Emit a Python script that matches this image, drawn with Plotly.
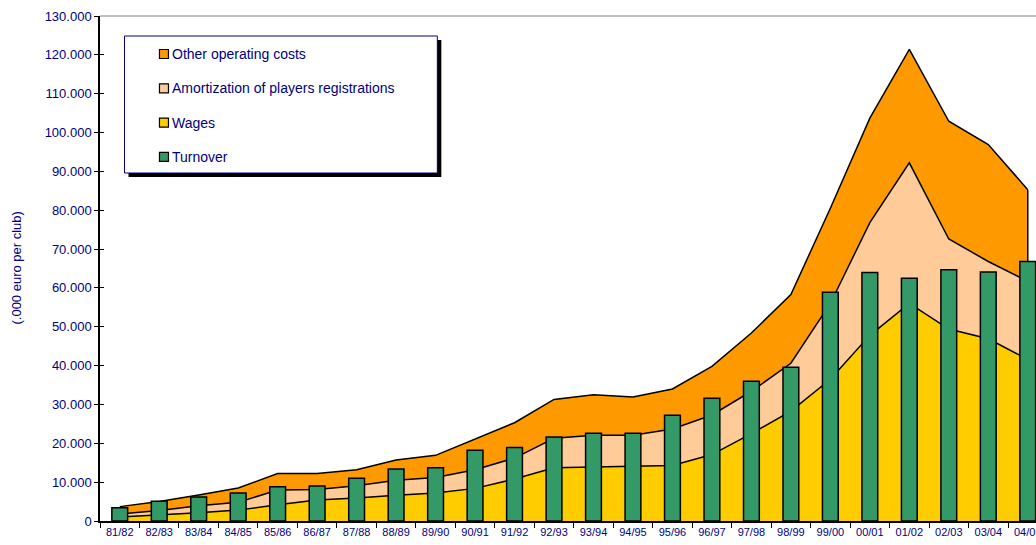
import plotly.graph_objects as go

# Seasons
seasons = ["81/82", "82/83", "83/84", "84/85", "85/86", "86/87", "87/88", "88/89",
           "89/90", "90/91", "91/92", "92/93", "93/94", "94/95", "95/96", "96/97",
           "97/98", "98/99", "99/00", "00/01", "01/02", "02/03", "03/04", "04/05"]

# Cost components (.000 euro per club)
wages = [1000, 1500, 2100, 2800, 4200, 5400, 5900, 6600, 7200, 8400, 10800, 13700,
         13900, 14000, 14300, 17100, 22500, 28300, 36500, 47800, 56000, 49400, 46900, 41600]
amortization = [800, 1200, 1800, 2000, 3800, 2700, 3200, 3900, 4000, 4800, 5400, 7600,
                8200, 8100, 9400, 10200, 10900, 12300, 19500, 29000, 36200, 23200, 19900, 20100]
other_costs = [1900, 2300, 2800, 3700, 4200, 4100, 4100, 5200, 5700, 7800, 9100, 10000,
               10400, 9800, 10300, 12500, 15000, 17700, 24500, 26900, 29200, 30300, 30100, 23600]

# Revenue
turnover = [3400, 5100, 6200, 7200, 8800, 9000, 11000, 13400, 13700, 18200, 18900, 21600,
            22600, 22600, 27200, 31600, 36000, 39600, 58900, 64000, 62500, 64700, 64100, 66800]

NAVY = "#000080"
FONT = "Liberation Sans, Arial, sans-serif"
COL_OTHER = "#FF9900"
COL_AMORT = "#FFCC99"
COL_WAGES = "#FFCC00"
COL_TURN = "#339966"

W, H = 1036, 545
L, T, B = 99.5, 16, 24
plot_w = W - L
plot_h = H - T - B
cat_px = 39.5
x_range = [-0.5, -0.5 + plot_w / cat_px]
y_range = [0, 130000]

fig = go.Figure()

# Stacked cost areas
for name, vals, col in [("Wages", wages, COL_WAGES),
                        ("Amortization of players registrations", amortization, COL_AMORT),
                        ("Other operating costs", other_costs, COL_OTHER)]:
    fig.add_trace(go.Scatter(
        x=seasons, y=vals, name=name, stackgroup="costs", mode="lines",
        line=dict(color="black", width=1.5), fillcolor=col, showlegend=False,
        hoverinfo="skip"))

# Closing edge of the stacked area at the last season
total_last = wages[-1] + amortization[-1] + other_costs[-1]
fig.add_trace(go.Scatter(
    x=[seasons[-1], seasons[-1]], y=[0, total_last], mode="lines",
    line=dict(color="black", width=1.5), showlegend=False, hoverinfo="skip"))

# Turnover bars on an overlaid subplot so they sit above the areas
fig.add_trace(go.Bar(
    x=seasons, y=turnover, name="Turnover", xaxis="x2", yaxis="y2",
    marker=dict(color=COL_TURN, line=dict(color="black", width=1.5)),
    width=0.4, showlegend=False, hoverinfo="skip"))

fig.update_layout(
    width=W, height=H,
    margin=dict(l=L, r=0, t=T, b=B, autoexpand=False),
    paper_bgcolor="white", plot_bgcolor="white",
    separators=",.",
    font=dict(family=FONT, color=NAVY),
    showlegend=False,
    xaxis=dict(
        type="category", categoryorder="array", categoryarray=seasons,
        range=x_range, showgrid=False, zeroline=False, automargin=False,
        showline=True, linecolor="black", linewidth=1.5,
        ticks="outside", tickson="boundaries", ticklen=5, tickcolor="black",
        tickfont=dict(size=11, color=NAVY, family=FONT)),
    yaxis=dict(
        range=y_range, dtick=10000, tickformat=",d", showgrid=False, zeroline=False,
        automargin=False,
        showline=True, linecolor="black", linewidth=1.5,
        ticks="outside", ticklen=4, tickcolor="black",
        tickfont=dict(size=13, color=NAVY, family=FONT)),
    xaxis2=dict(
        type="category", categoryorder="array", categoryarray=seasons,
        overlaying="x", range=x_range, visible=False, automargin=False),
    yaxis2=dict(
        overlaying="y", anchor="x2", side="left", range=y_range, dtick=10000,
        showgrid=False, zeroline=False, showline=False, showticklabels=False,
        automargin=False, ticks="inside", ticklen=4, tickcolor="black"),
    bargap=0.6,
)

# Top border of the plot area
fig.add_shape(type="line", xref="x domain", yref="y domain",
              x0=0, x1=1, y0=1, y1=1, line=dict(color="#808080", width=1))

# Axis title
fig.add_annotation(
    text="(.000 euro per club)", textangle=-90, showarrow=False,
    xref="paper", yref="paper",
    x=(15 - L) / plot_w, y=(H - B - 268) / plot_h,
    xanchor="center", yanchor="middle",
    font=dict(size=13, color=NAVY, family=FONT))


# Legend box drawn in pixel units
def px(xp):
    return (xp - L) / plot_w


def py(yp):
    return (H - B - yp) / plot_h


box = (124, 36, 437, 173)
fig.add_shape(type="rect", xref="paper", yref="paper", layer="above",
              x0=px(box[0] + 4), x1=px(box[2] + 4), y0=py(box[1] + 4), y1=py(box[3] + 4),
              line=dict(width=0), fillcolor="black")
fig.add_shape(type="rect", xref="paper", yref="paper", layer="above",
              x0=px(box[0]), x1=px(box[2]), y0=py(box[1]), y1=py(box[3]),
              line=dict(color=NAVY, width=1), fillcolor="white")

legend_items = [("Other operating costs", COL_OTHER),
                ("Amortization of players registrations", COL_AMORT),
                ("Wages", COL_WAGES),
                ("Turnover", COL_TURN)]
for i, (label, col) in enumerate(legend_items):
    yc = 54 + i * 34.3
    fig.add_shape(type="rect", xref="paper", yref="paper", layer="above",
                  x0=px(159), x1=px(168), y0=py(yc - 4.5), y1=py(yc + 4.5),
                  line=dict(color="black", width=1.2), fillcolor=col)
    fig.add_annotation(text=label, showarrow=False, xref="paper", yref="paper",
                       x=px(170), y=py(yc), xanchor="left", yanchor="middle",
                       font=dict(size=14, color=NAVY, family=FONT))

fig.write_html("out.html")
